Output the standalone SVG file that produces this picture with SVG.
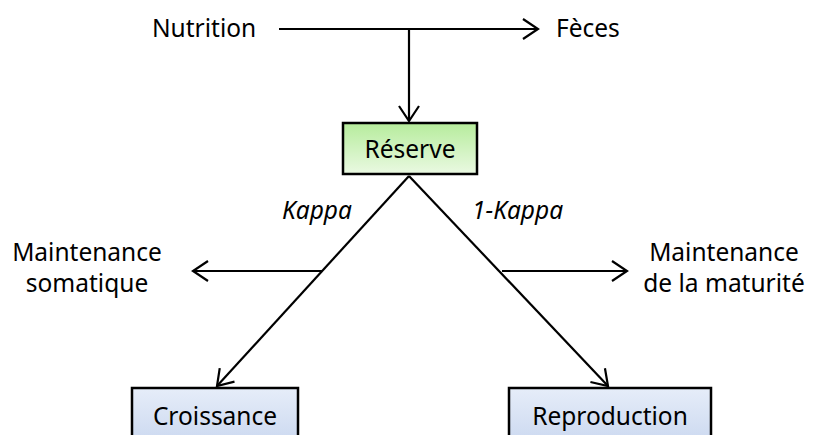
<svg xmlns="http://www.w3.org/2000/svg" width="818" height="435" viewBox="0 0 818 435">
<style>
text{font-family:"Noto Sans","DejaVu Sans",sans-serif;font-size:24.5px;fill:#000}
.it{font-style:italic}
.ln{stroke:#000;stroke-width:2.2;fill:none}
.box{stroke:#000;stroke-width:2.5}
</style>
<defs>
<marker id="ah" viewBox="0 0 20 22" refX="17" refY="11" markerWidth="20" markerHeight="22" markerUnits="userSpaceOnUse" orient="auto">
<path d="M2,1 L17,11 L2,21" fill="none" stroke="#000" stroke-width="2.2"/>
</marker>
<linearGradient id="gG" x1="0" y1="0" x2="0" y2="1"><stop offset="0" stop-color="#b6ec9c"/><stop offset="1" stop-color="#eaf9e2"/></linearGradient>
<linearGradient id="gB" x1="0" y1="0" x2="0" y2="1"><stop offset="0" stop-color="#e6edf9"/><stop offset="1" stop-color="#c9d7ef"/></linearGradient>
</defs>
<g id="connectors">
<line class="ln" x1="279" y1="29" x2="538" y2="29" marker-end="url(#ah)"/>
<line class="ln" x1="409" y1="29" x2="409" y2="121" marker-end="url(#ah)"/>
<line class="ln" x1="409" y1="176" x2="217" y2="386" marker-end="url(#ah)"/>
<line class="ln" x1="409" y1="176" x2="608" y2="386" marker-end="url(#ah)"/>
<line class="ln" x1="322" y1="271" x2="193" y2="271" marker-end="url(#ah)"/>
<line class="ln" x1="502" y1="271" x2="627" y2="271" marker-end="url(#ah)"/>
</g>
<g id="nutrition"><text x="152" y="37">Nutrition</text></g>
<g id="feces"><text x="556" y="37">Fèces</text></g>
<g id="reserve"><rect class="box" x="343" y="123" width="134" height="51" fill="url(#gG)"/><text x="410" y="158" text-anchor="middle">Réserve</text></g>
<g id="kappa"><text class="it" x="282" y="219">Kappa</text></g>
<g id="unmoinskappa"><text class="it" x="472" y="219">1-Kappa</text></g>
<g id="maint-som"><text x="87" y="261" text-anchor="middle">Maintenance</text><text x="87" y="292" text-anchor="middle">somatique</text></g>
<g id="maint-mat"><text x="724" y="261" text-anchor="middle">Maintenance</text><text x="724" y="292" text-anchor="middle">de la maturité</text></g>
<g id="croissance"><rect class="box" x="132" y="388" width="166" height="60" fill="url(#gB)"/><text x="215" y="425" text-anchor="middle">Croissance</text></g>
<g id="reproduction"><rect class="box" x="509" y="388" width="202" height="60" fill="url(#gB)"/><text x="610" y="425" text-anchor="middle">Reproduction</text></g>
</svg>
